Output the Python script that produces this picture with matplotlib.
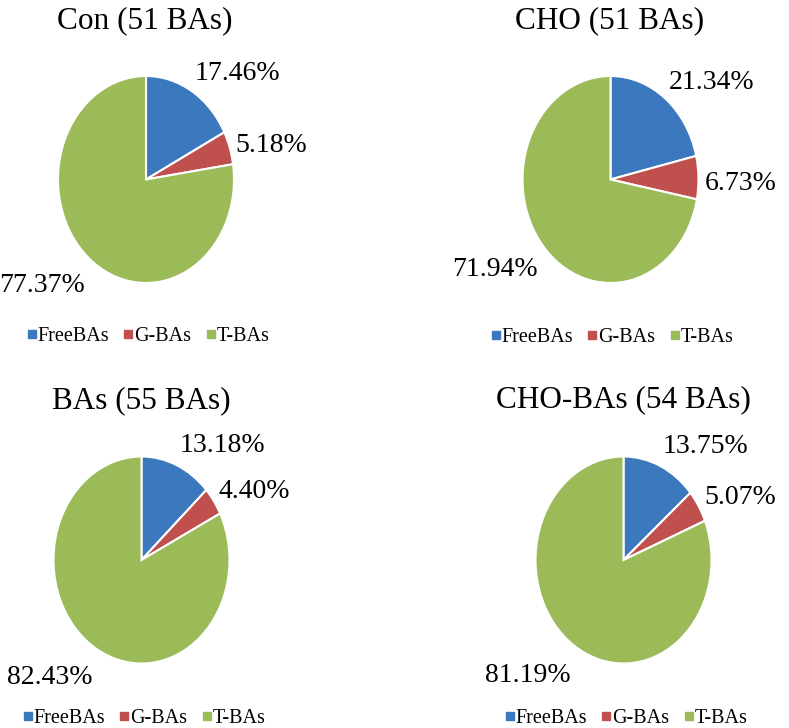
import numpy as np
import matplotlib
matplotlib.use('Agg')
import matplotlib.pyplot as plt
from matplotlib.lines import Line2D

plt.rcParams['font.family'] = ['Liberation Serif', 'DejaVu Serif']

# data (percent)
titles = ['Con (51 BAs)', 'CHO (51 BAs)', 'BAs (55 BAs)', 'CHO-BAs (54 BAs)']
categories = ['FreeBAs', 'G-BAs', 'T-BAs']
free_bas = [17.46, 21.34, 13.18, 13.75]
g_bas = [5.18, 6.73, 4.40, 5.07]
t_bas = [77.37, 71.94, 82.43, 81.19]
colors = ['#3B78BE', '#C0504D', '#9BBB59']

W, H = 789, 728
fig = plt.figure(figsize=(W / 100, H / 100), dpi=100)

# layout in pixels (from top left)
centers = [(146, 179.5), (610.5, 179.5), (141.5, 560), (623.5, 560)]
rx, ry = 88, 103.5
title_pos = [(145, 28), (610, 28), (141, 408), (623, 407)]
legend_pos = [(149, 336), (613, 337), (145, 718), (627, 718)]

for i in range(4):
    cx, cy = centers[i]
    ax = fig.add_axes([(cx - rx) / W, (H - cy - ry) / H, 2 * rx / W, 2 * ry / H])
    vals = [free_bas[i], g_bas[i], t_bas[i]]
    wedges, texts = ax.pie(vals, colors=colors, startangle=90, counterclock=False,
                           labels=['%.2f%%' % v for v in vals],
                           wedgeprops=dict(edgecolor='white', linewidth=1.5),
                           textprops=dict(fontsize=20))
    # the original pies are stretched vertically
    ax.set_aspect('auto')
    ax.set_xlim(-1, 1)
    ax.set_ylim(-1, 1)
    # labels just outside each slice, like excel's outside end
    for w, t in zip(wedges, texts):
        ang = np.deg2rad((w.theta1 + w.theta2) / 2)
        x, y = np.cos(ang), np.sin(ang)
        t.set_position((1.07 * x, 1.27 * y - 0.058))
        t.set_ha('left' if x > 0 else 'right')
        t.set_va('center')

    tx, ty = title_pos[i]
    fig.text(tx / W, 1 - ty / H, titles[i], ha='center', va='baseline', fontsize=22.5)

    handles = [Line2D([], [], marker='s', ls='none', color=c, markersize=5.5) for c in colors]
    lx, ly = legend_pos[i]
    fig.legend(handles, categories, loc='center', bbox_to_anchor=(lx / W, 1 - ly / H),
               ncol=3, frameon=False, fontsize=14.5, handlelength=0.3, handletextpad=0.15,
               columnspacing=0.8, borderaxespad=0, borderpad=0)

fig.savefig('out.png', dpi=100)
